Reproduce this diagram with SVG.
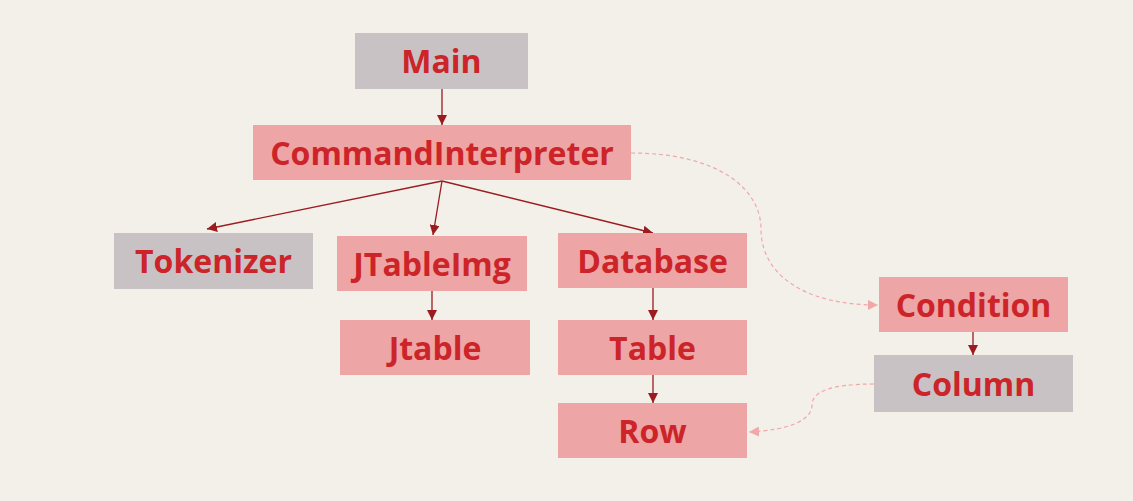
<svg xmlns="http://www.w3.org/2000/svg" width="1133" height="501" viewBox="0 0 1133 501">
<style>
.bg{fill:#f3efe9}
.g{fill:#c9c2c4}
.p{fill:#eda5a5}
.t{font-family:"Open Sans","Noto Sans","Liberation Sans",sans-serif;font-weight:bold;font-size:32px;fill:#cc2428;text-anchor:middle;dominant-baseline:central}
.e{stroke:#9b1b1f;stroke-width:1.3;fill:none;marker-end:url(#a)}
.d{stroke:#f0a8a8;stroke-width:1.2;fill:none;stroke-dasharray:4 3;marker-end:url(#b)}
</style>
<defs>
<marker id="a" viewBox="0 0 10 10" refX="10" refY="5" markerWidth="10" markerHeight="10" markerUnits="userSpaceOnUse" orient="auto"><path d="M0,0L10,5L0,10z" fill="#9b1b1f"/></marker>
<marker id="b" viewBox="0 0 10 10" refX="10" refY="5" markerWidth="10" markerHeight="10" markerUnits="userSpaceOnUse" orient="auto"><path d="M0,0L10,5L0,10z" fill="#f0a8a8"/></marker>
</defs>
<rect class="bg" width="1133" height="501"/>
<g id="connectors">
<path class="e" d="M442,89L442,125"/>
<path class="e" d="M442,181L207,229"/>
<path class="e" d="M442,181L433,235"/>
<path class="e" d="M442,181L653,233"/>
<path class="e" d="M432,291L432,320"/>
<path class="e" d="M653,288L653,320"/>
<path class="e" d="M653,375L653,403"/>
<path class="e" d="M973,332L973,355"/>
<path class="d" d="M631,153C720,153 761,190 761,229C761,272 800,305 878,305"/>
<path class="d" d="M874,384C830,384 812,392 812,405C812,420 790,430 749,432"/>
</g>
<g id="main"><rect class="g" x="355" y="33" width="173" height="56"/><text class="t" x="441.5" y="60">Main</text></g>
<g id="commandinterpreter"><rect class="p" x="253" y="125" width="378" height="55"/><text class="t" x="442" y="152">CommandInterpreter</text></g>
<g id="tokenizer"><rect class="g" x="114" y="233" width="199" height="56"/><text class="t" x="213.5" y="260">Tokenizer</text></g>
<g id="jtableimg"><rect class="p" x="337" y="236" width="190" height="55"/><text class="t" x="432" y="263">JTableImg</text></g>
<g id="database"><rect class="p" x="558" y="233" width="189" height="55"/><text class="t" x="652.5" y="260">Database</text></g>
<g id="jtable"><rect class="p" x="340" y="320" width="190" height="55"/><text class="t" x="435" y="347">Jtable</text></g>
<g id="table"><rect class="p" x="558" y="320" width="189" height="55"/><text class="t" x="652.5" y="347">Table</text></g>
<g id="row"><rect class="p" x="558" y="403" width="189" height="55"/><text class="t" x="652.5" y="430">Row</text></g>
<g id="condition"><rect class="p" x="879" y="277" width="189" height="55"/><text class="t" x="973.5" y="304">Condition</text></g>
<g id="column"><rect class="g" x="874" y="355" width="199" height="57"/><text class="t" x="973.5" y="383">Column</text></g>
</svg>
